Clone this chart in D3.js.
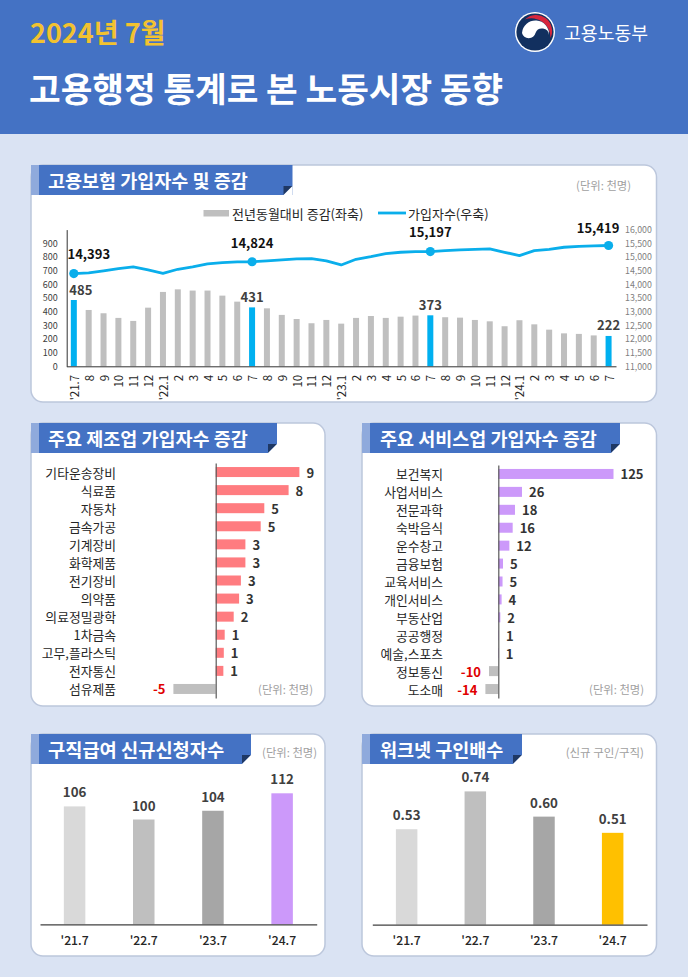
<!DOCTYPE html>
<html>
<head>
<meta charset="utf-8">
<script src="https://d3js.org/d3.v7.min.js"></script>
<style>
  html, body { margin: 0; padding: 0; background: #DAE3F3; }
  svg { display: block; }
  text { font-family: "Noto Sans CJK KR", "Noto Sans", sans-serif; }
</style>
</head>
<body>
<svg id="page" width="688" height="977"></svg>

<script type="text/javascript">
// top chart: monthly series from '21.7 to '24.7
const months = ["'21.7","8","9","10","11","12","'22.1","2","3","4","5","6","7","8","9","10","11","12",
                "'23.1","2","3","4","5","6","7","8","9","10","11","12","'24.1","2","3","4","5","6","7"];
const yoyChange = [485,412,388,354,332,429,544,563,554,554,517,473,431,424,376,346,315,339,
                   312,354,368,354,363,371,373,359,356,339,329,293,337,307,268,241,237,226,222];
const insured = [14393,14415,14490,14573,14634,14524,14402,14549,14634,14744,14793,14817,14824,14854,14890,14927,14939,14854,
                 14707,14915,15012,15122,15171,15195,15197,15232,15256,15280,15293,15171,15049,15232,15280,15354,15390,15402,15419];
const highlightIdx = [0, 12, 24, 36];
const leftTicks = [0,100,200,300,400,500,600,700,800,900];
const rightTicks = [11000,11500,12000,12500,13000,13500,14000,14500,15000,15500,16000];

// manufacturing
const mfgCats = ["기타운송장비","식료품","자동차","금속가공","기계장비","화학제품","전기장비","의약품","의료정밀광학","1차금속","고무,플라스틱","전자통신","섬유제품"];
const mfgVals = [9.3,8.1,5.4,5.0,3.3,3.3,2.8,2.6,2.0,1.0,0.9,0.85,-4.7];

// services
const svcCats = ["보건복지","사업서비스","전문과학","숙박음식","운수창고","금융보험","교육서비스","개인서비스","부동산업","공공행정","예술,스포츠","정보통신","도소매"];
const svcVals = [125,25.7,18.1,15.6,12,5.1,4.6,3.6,2.2,0.7,0.6,-10.1,-14];

// yearly comparisons
const years = ["'21.7","'22.7","'23.7","'24.7"];
const claimants = [106,100,104,112];
const jobRatio = [0.53,0.74,0.60,0.51];
const claimColors = ["#D9D9D9","#BFBFBF","#A6A6A6","#CC99FA"];
const ratioColors = ["#D9D9D9","#BFBFBF","#A6A6A6","#FFC000"];

const svg = d3.select("#page");
const BLUE = "#4472C4", DARK = "#333333", AXIS = "#404040";

function label(g, x, y, str, size, opts) {
    opts = opts || {};
    return g.append("text")
        .attr("x", x).attr("y", y)
        .attr("font-size", size)
        .attr("font-weight", opts.weight || 400)
        .attr("fill", opts.fill || DARK)
        .attr("text-anchor", opts.anchor || "start")
        .attr("dominant-baseline", "central")
        .text(str);
}

// page background + header
svg.append("rect").attr("width", 688).attr("height", 977).attr("fill", "#DAE3F3");
svg.append("rect").attr("width", 688).attr("height", 134).attr("fill", BLUE);
label(svg, 30, 31, "2024년 7월", 27, { weight: 700, fill: "#F2C230" });
label(svg, 29, 87, "고용행정 통계로 본 노동시장 동향", 34.4, { weight: 700, fill: "#FFFFFF" });
label(svg, 564, 32, "고용노동부", 18.3, { weight: 400, fill: "#FFFFFF" });

// ministry emblem, a rough taegeuk
const logo = svg.append("g").attr("transform", "translate(535,32)");
logo.append("circle").attr("r", 20).attr("fill", "#FFFFFF");
logo.append("circle").attr("r", 18.6).attr("fill", "#12305F");
logo.append("path").attr("d", "M-10,-12.5 A16,16 0 0 1 15.5,6 A19,19 0 0 0 -10,-12.5Z").attr("fill", "#D7263D");
logo.append("path").attr("d", "M-13,1 A13.5,13.5 0 0 1 14,3 A7,7 0 0 0 0.5,1 A7,7 0 0 1 -13,1Z").attr("fill", "#FFFFFF");

// card with title ribbon
function card(x0, x1, y0, y1, ribbonEnd, title, titleX, titleSize) {
    svg.append("rect").attr("x", x0).attr("y", y0)
        .attr("width", x1 - x0).attr("height", y1 - y0).attr("rx", 12)
        .attr("fill", "#FFFFFF").attr("stroke", "#BCC7DC").attr("stroke-width", 1.5);
    const h = 30;
    svg.append("rect").attr("x", x0).attr("y", y0).attr("width", ribbonEnd - x0).attr("height", h).attr("fill", BLUE);
    svg.append("rect").attr("x", x0).attr("y", y0).attr("width", 8).attr("height", h).attr("fill", "#8FAADC");
    svg.append("path")
        .attr("d", `M${ribbonEnd - 9},${y0 + h} L${ribbonEnd - 9},${y0 + h - 9} L${ribbonEnd},${y0 + h - 9} Z`)
        .attr("fill", "#1F3864");
    svg.append("path")
        .attr("d", `M${ribbonEnd - 9},${y0 + h} L${ribbonEnd},${y0 + h - 9} L${ribbonEnd},${y0 + h} Z`)
        .attr("fill", "#FFFFFF");
    label(svg, titleX, y0 + 14.5, title, titleSize, { weight: 700, fill: "#FFFFFF" });
}

card(31, 656.5, 165, 402, 292.5, "고용보험 가입자수 및 증감", 48, 18.5);
card(31, 325, 423, 706, 277, "주요 제조업 가입자수 증감", 48, 18.5);
card(362, 656.5, 423, 706, 620, "주요 서비스업 가입자수 증감", 380, 18.5);
card(31, 325, 734, 956, 251, "구직급여 신규신청자수", 48, 18.7);
card(362, 656.5, 734, 956, 522, "워크넷 구인배수", 380, 18.5);

const unit = { fill: "#A0A0A0" };
label(svg, 631, 185, "(단위: 천명)", 11.3, { ...unit, anchor: "end" });
label(svg, 313, 689, "(단위: 천명)", 11.3, { ...unit, anchor: "end" });
label(svg, 644, 689, "(단위: 천명)", 11.3, { ...unit, anchor: "end" });
label(svg, 317, 752, "(단위: 천명)", 11.3, { ...unit, anchor: "end" });
label(svg, 644, 752, "(신규 구인/구직)", 11.5, { ...unit, anchor: "end" });

// ---- top combo chart ----
const combo = svg.append("g");
const xTop = d3.scaleBand().domain(d3.range(months.length)).range([66.4, 616]);
const yLeft = d3.scaleLinear().domain([0, 1000]).range([366.3, 229.6]);
const yRight = d3.scaleLinear().domain([11000, 16000]).range([366.3, 229.6]);
const barW = 6;

combo.selectAll("rect.bar").data(yoyChange).enter().append("rect")
    .attr("x", (d, i) => xTop(i) + xTop.bandwidth() / 2 - barW / 2)
    .attr("y", d => yLeft(d))
    .attr("width", barW)
    .attr("height", d => yLeft(0) - yLeft(d))
    .attr("fill", (d, i) => highlightIdx.includes(i) ? "#00B0F0" : "#BFBFBF");

const line = d3.line()
    .x((d, i) => xTop(i) + xTop.bandwidth() / 2)
    .y(d => yRight(d));
combo.append("path").datum(insured).attr("d", line)
    .attr("fill", "none").attr("stroke", "#0AAEEB").attr("stroke-width", 2.8).attr("stroke-linejoin", "round");

combo.selectAll("circle").data(highlightIdx).enter().append("circle")
    .attr("cx", i => xTop(i) + xTop.bandwidth() / 2)
    .attr("cy", i => yRight(insured[i]))
    .attr("r", 4.6)
    .attr("fill", "#0AAEEB");

// left axis
const axL = combo.append("g").attr("transform", "translate(66.7,0)")
    .call(d3.axisLeft(yLeft).tickValues(leftTicks).tickSize(0).tickPadding(9));
axL.select(".domain").attr("stroke", DARK);
axL.selectAll("text").attr("font-size", 9).attr("fill", AXIS);
axL.attr("font-family", null);

// right axis, labels only
const axR = combo.append("g").attr("transform", "translate(616,0)")
    .call(d3.axisRight(yRight).tickValues(rightTicks).tickSize(0).tickPadding(9).tickFormat(d3.format(",")));
axR.select(".domain").remove();
axR.selectAll("text").attr("font-size", 8.8).attr("fill", "#7F7F7F");
axR.attr("font-family", null);

// bottom axis with rotated labels
const axB = combo.append("g").attr("transform", "translate(0,366.3)")
    .call(d3.axisBottom(xTop).tickSize(0).tickFormat(i => months[i]));
axB.select(".domain").attr("stroke", DARK);
axB.attr("font-family", null);
axB.selectAll("text")
    .attr("font-size", 11.5).attr("fill", "#262626")
    .attr("text-anchor", "end").attr("dominant-baseline", "central")
    .attr("transform", "rotate(-90)")
    .attr("x", -8.5).attr("y", 0).attr("dy", 0);

// value labels above each highlighted mark
highlightIdx.forEach((i, k) => {
    const cx = xTop(i) + xTop.bandwidth() / 2;
    const dxLine = [15, 0, 0, -10.5][k], dyLine = [-20, -19.5, -20.5, -18][k];
    label(combo, cx + dxLine, yRight(insured[i]) + dyLine, d3.format(",")(insured[i]), 13, { weight: 700, fill: "#111111", anchor: "middle" });
    const dxBar = [7, 0, 0, 0][k];
    label(combo, cx + dxBar, yLeft(yoyChange[i]) - 11, yoyChange[i], 13, { weight: 700, fill: "#404040", anchor: "middle" });
});

// legend
const leg = svg.append("g");
leg.append("rect").attr("x", 203.5).attr("y", 210).attr("width", 25.5).attr("height", 6.5).attr("fill", "#BFBFBF");
label(leg, 232, 213, "전년동월대비 증감(좌축)", 13, { fill: "#262626" });
leg.append("line").attr("x1", 378).attr("x2", 406).attr("y1", 213).attr("y2", 213)
    .attr("stroke", "#0AAEEB").attr("stroke-width", 2.8);
label(leg, 408, 213, "가입자수(우축)", 13, { fill: "#262626" });

// ---- horizontal bar panels ----
function hbars(cats, vals, opt) {
    const g = svg.append("g");
    const y = d3.scaleBand().domain(cats).range(opt.yRange);
    const x = d3.scaleLinear().domain(opt.domain).range(opt.xRange);
    const h = opt.barH;
    const mid = d => y(d) + y.bandwidth() / 2;

    g.selectAll("rect").data(vals).enter().append("rect")
        .attr("x", d => Math.min(x(0), x(d)))
        .attr("y", (d, i) => mid(cats[i]) - h / 2)
        .attr("width", d => Math.abs(x(d) - x(0)))
        .attr("height", h)
        .attr("fill", d => d < 0 ? "#BFBFBF" : opt.color);

    const ax = g.append("g").attr("transform", `translate(${x(0)},0)`)
        .call(d3.axisLeft(y).tickSize(0).tickFormat(""));
    ax.select(".domain").attr("stroke", "#595959").attr("stroke-width", 1.2);

    cats.forEach((c, i) => {
        label(g, opt.catRight, mid(c), c, 12.8, { anchor: "end", fill: "#262626" });
        const v = vals[i], round = Math.round(v);
        if (v < 0) label(g, x(v) - 8, mid(c), round, 13, { weight: 700, fill: "#E00000", anchor: "end" });
        else label(g, x(v) + 7, mid(c), round, 13, { weight: 700 });
    });
}

hbars(mfgCats, mfgVals, {
    yRange: [463, 698], domain: [0, 10], xRange: [215.7, 305.7],
    barH: 10, color: "#FF7C80", catRight: 116
});
hbars(svcCats, svcVals, {
    yRange: [465, 698], domain: [0, 125], xRange: [498.3, 613.5],
    barH: 10, color: "#CC99FA", catRight: 443
});

// ---- column panels ----
function columns(vals, colors, opt) {
    const g = svg.append("g");
    const x = d3.scaleBand().domain(years).range(opt.xRange);
    const y = d3.scaleLinear().domain(opt.domain).range(opt.yRange);
    const w = 21.5;
    g.selectAll("rect").data(vals).enter().append("rect")
        .attr("x", (d, i) => x(years[i]) + x.bandwidth() / 2 - w / 2)
        .attr("y", d => y(d))
        .attr("width", w)
        .attr("height", d => y(opt.domain[0]) - y(d))
        .attr("fill", (d, i) => colors[i]);
    const ax = g.append("g").attr("transform", `translate(0,${opt.yRange[0]})`)
        .call(d3.axisBottom(x).tickSize(0).tickPadding(12));
    ax.select(".domain").attr("stroke", "#404040").attr("stroke-width", 1.2);
    ax.attr("font-family", null);
    ax.selectAll("text").attr("font-size", 12.2).attr("font-weight", 500).attr("fill", "#262626");
    vals.forEach((v, i) => {
        label(g, x(years[i]) + x.bandwidth() / 2, y(v) - 14.5, opt.fmt(v), 13.3, { weight: 700, fill: "#404040", anchor: "middle" });
    });
}

columns(claimants, claimColors, {
    xRange: [40, 316.7], domain: [52, 112], yRange: [924.3, 793.3], fmt: d3.format("d")
});
columns(jobRatio, ratioColors, {
    xRange: [372.3, 647], domain: [0, 0.74], yRange: [924.7, 791.4], fmt: d3.format(".2f")
});
</script>
</body>
</html>
